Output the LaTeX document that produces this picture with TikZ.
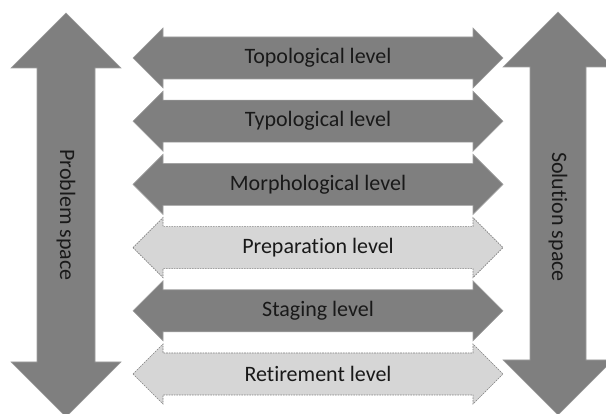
\documentclass[tikz,border=0pt]{standalone}
\usepackage{fontspec}
\setmainfont[Ligatures=NoCommon]{Carlito}
\definecolor{darkgrey}{HTML}{7F7F7F}
\definecolor{lightgrey}{HTML}{D6D6D6}
\begin{document}
\begin{tikzpicture}[x=1pt,y=-1pt,
	darkarrow/.style={fill=darkgrey,draw=darkgrey!75!white,line width=0.6pt},
	lightarrow/.style={fill=lightgrey,draw=darkgrey,dash pattern=on 1.6pt off 1pt,line width=0.6pt},
	lbl/.style={font=\fontsize{22}{26}\selectfont,text=black!90}]
	\useasboundingbox (0,0) rectangle (606,414);
	\def\xl{133}%mũi trái
	\def\xr{503}%mũi phải
	\def\hl{30}%chiều dài đầu mũi tên
	\def\ws{21}%nửa bề rộng thân
	\def\wh{30}%nửa bề rộng đầu
	% problem space
	\draw[darkarrow] (66,13)--(121,68)--(95,68)--(95,362)--(121,362)--(66,417)
		--(11,362)--(37,362)--(37,68)--(11,68)--cycle;
	\node[lbl,rotate=-90] (problem) at (66,215) {Problem space};
	% solution space
	\draw[darkarrow] (558,12)--(613,67)--(586,67)--(586,360)--(613,360)--(558,415)
		--(503,360)--(530,360)--(530,67)--(503,67)--cycle;
	\node[lbl,rotate=-90] (solution) at (558,217) {Solution space};
	% levels
	\foreach \y/\s/\t/\n in {58/darkarrow/Topological level/topo,
		121.2/darkarrow/Typological level/typo,
		184.4/darkarrow/Morphological level/morph,
		247.6/lightarrow/Preparation level/prep,
		310.8/darkarrow/Staging level/stag,
		374/lightarrow/Retirement level/retire}{
		\draw[\s] (\xl,\y)--(\xl+\hl,\y-\wh)--(\xl+\hl,\y-\ws)--(\xr-\hl,\y-\ws)
			--(\xr-\hl,\y-\wh)--(\xr,\y)--(\xr-\hl,\y+\wh)--(\xr-\hl,\y+\ws)
			--(\xl+\hl,\y+\ws)--(\xl+\hl,\y+\wh)--cycle;
		\node[lbl] (\n) at (318,\y) {\t};
	}
\end{tikzpicture}
\end{document}
